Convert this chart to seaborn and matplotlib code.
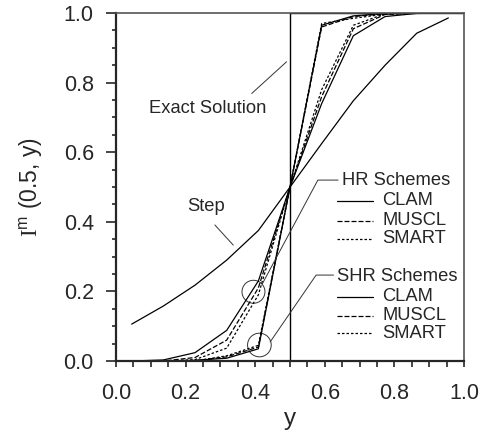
"""
Centreline profile I^m(0.5, y): Step vs HR and SHR schemes
"""
import numpy as np
import pandas as pd
import matplotlib
matplotlib.use('Agg')
import matplotlib.pyplot as plt
from matplotlib.patches import Circle
from matplotlib.ticker import MultipleLocator
import seaborn as sns

# cell centres along y
y_cells = [0.045, 0.136, 0.227, 0.318, 0.409, 0.5, 0.591, 0.682, 0.773, 0.864, 0.955]

step = [0.106, 0.158, 0.218, 0.29, 0.375, 0.5, 0.625, 0.748, 0.85, 0.942, 0.986]

hr_clam = [0.0, 0.003, 0.024, 0.088, 0.23, 0.5, 0.74, 0.935, 0.99, 0.999, 1.0]
hr_muscl = [0.0, 0.0, 0.01, 0.06, 0.21, 0.5, 0.76, 0.955, 0.996, 1.0, 1.0]
hr_smart = [0.0, 0.0, 0.004, 0.037, 0.19, 0.5, 0.78, 0.965, 0.998, 1.0, 1.0]

shr_clam = [0.0, 0.0, 0.002, 0.008, 0.035, 0.5, 0.965, 0.992, 0.999, 1.0, 1.0]
shr_muscl = [0.0, 0.0, 0.001, 0.012, 0.04, 0.5, 0.96, 0.99, 0.998, 1.0, 1.0]
shr_smart = [0.0, 0.0, 0.0, 0.015, 0.045, 0.5, 0.97, 0.985, 0.997, 1.0, 1.0]

# exact solution: unit step at y = 0.5
exact_x = [0.0, 0.5, 0.5, 1.0]
exact_y = [0.0, 0.0, 1.0, 1.0]

xticks = [0.0, 0.2, 0.4, 0.6, 0.8, 1.0]
yticks = [0.0, 0.2, 0.4, 0.6, 0.8, 1.0]

sns.set_style("ticks")
plt.rcParams['font.family'] = ['Liberation Sans', 'DejaVu Sans']
plt.rcParams['mathtext.fontset'] = 'custom'
plt.rcParams['mathtext.rm'] = 'Liberation Serif'
plt.rcParams['mathtext.sf'] = 'Liberation Sans'

fig = plt.figure(figsize=(4.81, 4.36), dpi=100)
ax = fig.add_axes([0.2412, 0.172, 0.7235, 0.798])

solid = ''
dash_muscl = (4, 1.6)
dash_smart = (2, 1.6)

curves = [
    (step, solid),
    (hr_clam, solid), (hr_muscl, dash_muscl), (hr_smart, dash_smart),
    (shr_clam, solid), (shr_muscl, dash_muscl), (shr_smart, dash_smart),
]
for vals, dash in curves:
    df = pd.DataFrame({'y': y_cells, 'I': vals})
    line = sns.lineplot(data=df, x='y', y='I', ax=ax, color='black', lw=0.9,
                        estimator=None, sort=False)
    if dash:
        line.lines[-1].set_dashes(dash)

sns.lineplot(x=exact_x, y=exact_y, ax=ax, color='black', lw=1.0,
             estimator=None, sort=False)

ax.set_xlim(0, 1)
ax.set_ylim(0, 1)
ax.set_xticks(xticks)
ax.set_yticks(yticks)
ax.set_xticklabels([f'{t:.1f}' for t in xticks])
ax.set_yticklabels([f'{t:.1f}' for t in yticks])
ax.xaxis.set_minor_locator(MultipleLocator(0.05))
ax.yaxis.set_minor_locator(MultipleLocator(0.05))
ax.tick_params(axis='x', which='major', direction='out', length=4, width=1.2,
               labelsize=15.5, pad=12)
ax.tick_params(axis='x', which='minor', direction='out', length=4, width=1.2)
ax.tick_params(axis='y', which='major', direction='out', length=7, width=1.2,
               labelsize=15.5, pad=9)
ax.tick_params(axis='y', which='minor', direction='out', length=3, width=1.2)

for side in ['left', 'bottom']:
    ax.spines[side].set_linewidth(1.6)
for side in ['top', 'right']:
    ax.spines[side].set_linewidth(1.2)
    ax.spines[side].set_color('#555555')

ax.set_xlabel('y', fontsize=17.5, labelpad=3)
ax.set_ylabel(r'$\mathrm{I}^{\mathsf{m}}$ (0.5, y)', fontsize=16.5, labelpad=13)

# annotations
fs = 13.2
ax.text(0.262, 0.727, 'Exact Solution', fontsize=fs, ha='center', va='center')
ax.plot([0.39, 0.49], [0.769, 0.86], color='#333333', lw=0.7)

ax.text(0.259, 0.443, 'Step', fontsize=fs, ha='center', va='center')
ax.plot([0.284, 0.337], [0.391, 0.333], color='#333333', lw=0.7)

ax.add_patch(Circle((0.395, 0.199), 0.033, fill=False, lw=0.7, color='#333333'))
ax.add_patch(Circle((0.412, 0.046), 0.034, fill=False, lw=0.7, color='#333333'))

ax.text(0.649, 0.52, 'HR Schemes', fontsize=fs, ha='left', va='center')
ax.plot([0.638, 0.58, 0.42], [0.52, 0.52, 0.221], color='#333333', lw=0.7)

ax.text(0.634, 0.243, 'SHR Schemes', fontsize=fs, ha='left', va='center')
ax.plot([0.625, 0.575, 0.443], [0.247, 0.247, 0.055], color='#333333', lw=0.7)

keys = [('CLAM', solid), ('MUSCL', dash_muscl), ('SMART', dash_smart)]
for y0 in [(0.46, 0.403, 0.351), (0.185, 0.130, 0.080)]:
    for yk, (name, dash) in zip(y0, keys):
        ln, = ax.plot([0.634, 0.738], [yk, yk], color='black', lw=0.9)
        if dash:
            ln.set_dashes(dash)
        ax.text(0.766, yk, name, fontsize=fs, ha='left', va='center')

fig.savefig('out.png', dpi=100)
